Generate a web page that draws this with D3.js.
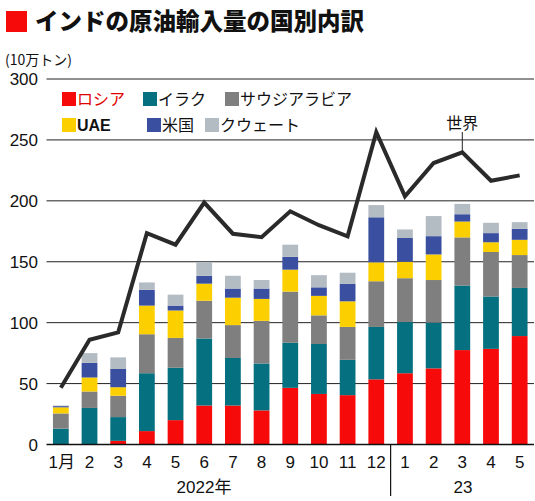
<!DOCTYPE html>
<html>
<head>
<meta charset="utf-8">
<script src="https://cdn.jsdelivr.net/npm/d3@7"></script>
<style>
  body { margin: 0; background: #fff; }
  svg { display: block; font-family: "Liberation Sans", "Noto Sans CJK JP", sans-serif; }
  .jp { font-family: "Noto Sans CJK JP", sans-serif; }
</style>
</head>
<body>
<div id="chart"></div>
<script>
// India crude imports by origin, 10k-ton units
const months = ["1月", "2", "3", "4", "5", "6", "7", "8", "9", "10", "11", "12", "1", "2", "3", "4", "5"];
const russia = [0, 0, 3, 11, 20, 32, 32, 28, 46.5, 41.5, 40.5, 53.5, 58.5, 62.5, 77.5, 78.5, 89];
const iraq   = [13, 30, 19.5, 47.5, 43, 55, 39, 38.5, 37, 41, 29, 43, 42, 37.5, 53, 43, 39.5];
const saudi  = [12.5, 13.5, 17.5, 32, 24.5, 31, 27, 35, 42, 23.5, 27, 37.5, 36, 35, 39.5, 36.5, 27];
const uae    = [5, 11.5, 7, 23.5, 22.5, 14, 22.5, 18, 18, 16, 21, 15.5, 13.5, 21, 13, 8, 12.5];
const usa    = [1, 12, 15, 13, 4, 6.5, 7.5, 8.5, 10.5, 7, 14.5, 37, 19.5, 15, 6, 7.5, 9];
const kuwait = [0.5, 8, 9.5, 6, 9, 11, 10.5, 7, 10, 10, 9, 10, 7, 16.5, 8.5, 8.5, 5.5];
const world  = [46.5, 86, 92, 173.5, 164, 198.6, 173, 170.2, 191.4, 180, 170.9, 256.4, 203.7, 231, 239.8, 216.5, 220.9];
const yTicks = [0, 50, 100, 150, 200, 250, 300];

const seriesKeys = ["russia", "iraq", "saudi", "uae", "usa", "kuwait"];
const seriesNames = ["ロシア", "イラク", "サウジアラビア", "UAE", "米国", "クウェート"];
const colors = ["#f70a0a", "#05707f", "#7f7f7f", "#fcd000", "#3a4f9f", "#b3bbc3"];

const W = 535, H = 501;
const svg = d3.select("#chart").append("svg").attr("width", W).attr("height", H);

// build table rows for the stack
const rows = months.map((m, i) => ({
  i, russia: russia[i], iraq: iraq[i], saudi: saudi[i],
  uae: uae[i], usa: usa[i], kuwait: kuwait[i]
}));

const x = d3.scaleBand().domain(d3.range(months.length))
  .range([46.5, 534]).paddingInner(0.45).paddingOuter(0.225);
const y = d3.scaleLinear().domain([0, 300]).range([444.5, 79]);
const color = d3.scaleOrdinal().domain(seriesKeys).range(colors);

// title
svg.append("rect").attr("x", 6).attr("y", 11).attr("width", 21).attr("height", 21).attr("fill", "#f70a0a");
svg.append("text").attr("class", "jp").attr("x", 35).attr("y", 30)
  .attr("font-size", 23.5).attr("font-weight", 900).attr("fill", "#111")
  .text("インドの原油輸入量の国別内訳");

svg.append("text").attr("class", "jp").attr("x", 5).attr("y", 65)
  .attr("font-size", 14).attr("fill", "#111").text("(10万トン)");

// grid + y labels
const grid = svg.append("g");
grid.selectAll("line").data(yTicks.filter(d => d > 0)).enter().append("line")
  .attr("x1", 46.5).attr("x2", 534)
  .attr("y1", d => y(d)).attr("y2", d => y(d))
  .attr("stroke", "#222").attr("stroke-width", 1);

svg.append("g").selectAll("text").data(yTicks).enter().append("text")
  .attr("x", 38).attr("y", d => y(d)).attr("dy", "0.36em")
  .attr("text-anchor", "end").attr("font-size", 17).attr("fill", "#111")
  .text(d => d);

// stacked bars
const stacked = d3.stack().keys(seriesKeys)(rows);
svg.append("g").selectAll("g").data(stacked).enter().append("g")
  .attr("fill", d => color(d.key))
  .selectAll("rect").data(d => d).enter().append("rect")
  .attr("x", d => x(d.data.i))
  .attr("width", x.bandwidth())
  .attr("y", d => y(d[1]))
  .attr("height", d => y(d[0]) - y(d[1]));

// axis baseline
svg.append("line").attr("x1", 46.5).attr("x2", 534)
  .attr("y1", y(0)).attr("y2", y(0)).attr("stroke", "#111").attr("stroke-width", 1.5);

// world line
const line = d3.line().x((d, i) => x(i) + x.bandwidth() / 2).y(d => y(d));
svg.append("path").datum(world).attr("d", line)
  .attr("fill", "none").attr("stroke", "#2a2a2a").attr("stroke-width", 4)
  .attr("stroke-linejoin", "miter");

// world label with leader
const wi = 14;
const wx = x(wi) + x.bandwidth() / 2;
svg.append("line").attr("x1", wx).attr("x2", wx).attr("y1", 132).attr("y2", y(world[wi]))
  .attr("stroke", "#222").attr("stroke-width", 1);
svg.append("text").attr("class", "jp").attr("x", wx).attr("y", 129)
  .attr("text-anchor", "middle").attr("font-size", 16).attr("fill", "#111").text("世界");

// x labels
svg.append("g").selectAll("text").data(months).enter().append("text")
  .attr("x", (d, i) => x(i) + x.bandwidth() / 2 + (i === 0 ? 1 : 0))
  .attr("y", 468).attr("text-anchor", "middle").attr("font-size", 17).attr("fill", "#111")
  .text(d => d);

// year divider and labels
const divX = (x(11) + x.bandwidth() + x(12)) / 2;
svg.append("line").attr("x1", divX).attr("x2", divX).attr("y1", y(0)).attr("y2", 496)
  .attr("stroke", "#111").attr("stroke-width", 1.2);
svg.append("text").attr("x", 204).attr("y", 493).attr("text-anchor", "middle")
  .attr("font-size", 17).attr("fill", "#111").text("2022年");
svg.append("text").attr("x", 463).attr("y", 493).attr("text-anchor", "middle")
  .attr("font-size", 17).attr("fill", "#111").text("23");

// legend
const legendPos = [[62, 99], [143, 99], [225, 99], [62, 125], [147, 125], [205, 125]];
const legend = svg.append("g").selectAll("g").data(seriesKeys).enter().append("g")
  .attr("transform", (d, i) => `translate(${legendPos[i][0]},${legendPos[i][1]})`);
legend.append("rect").attr("x", 0).attr("y", -7).attr("width", 14).attr("height", 14)
  .attr("fill", d => color(d));
legend.append("text").attr("class", (d, i) => i === 3 ? "" : "jp")
  .attr("x", 15).attr("y", 0).attr("dy", "0.36em")
  .attr("font-size", 16)
  .attr("font-weight", (d, i) => i === 3 ? 700 : 400)
  .attr("fill", (d, i) => i === 0 ? "#e00000" : "#111")
  .text((d, i) => seriesNames[i]);
</script>
</body>
</html>
